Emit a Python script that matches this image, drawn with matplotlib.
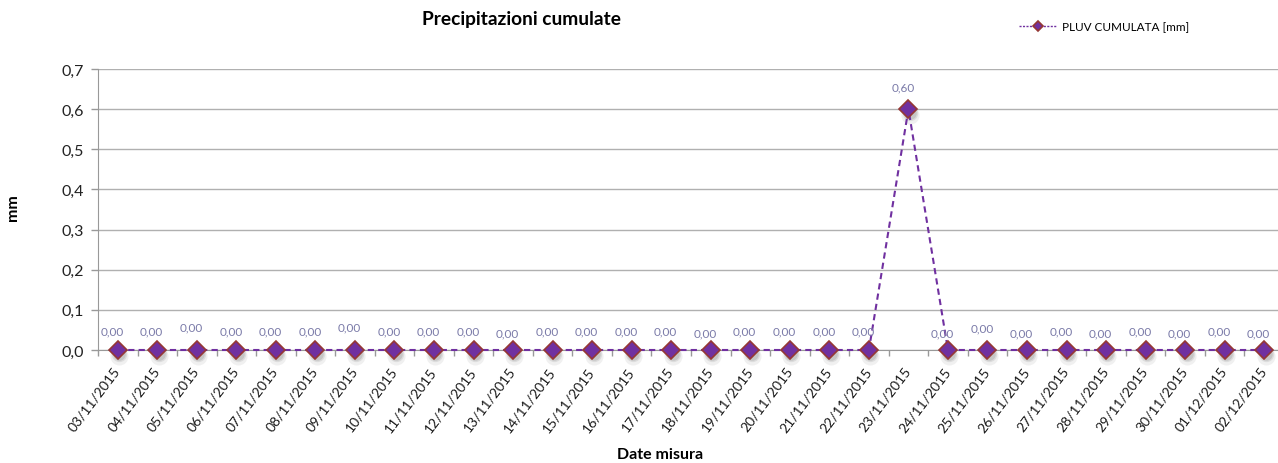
import matplotlib
matplotlib.use("Agg")
import matplotlib.pyplot as plt
import matplotlib.transforms as mtransforms
import numpy as np

plt.rcParams['font.family'] = ['Lato', 'DejaVu Sans']

dates = ["03/11/2015", "04/11/2015", "05/11/2015", "06/11/2015", "07/11/2015",
         "08/11/2015", "09/11/2015", "10/11/2015", "11/11/2015", "12/11/2015",
         "13/11/2015", "14/11/2015", "15/11/2015", "16/11/2015", "17/11/2015",
         "18/11/2015", "19/11/2015", "20/11/2015", "21/11/2015", "22/11/2015",
         "23/11/2015", "24/11/2015", "25/11/2015", "26/11/2015", "27/11/2015",
         "28/11/2015", "29/11/2015", "30/11/2015", "01/12/2015", "02/12/2015"]
pluv = [0, 0, 0, 0, 0, 0, 0, 0, 0, 0,
        0, 0, 0, 0, 0, 0, 0, 0, 0, 0,
        0.6, 0, 0, 0, 0, 0, 0, 0, 0, 0]
# small vertical offsets of the data labels (px), as Excel placed them
label_dy = [10, 10, 13, 10, 10, 10, 13, 10, 10, 10,
            8, 10, 10, 10, 10, 8, 10, 10, 10, 10,
            12, 8, 12, 8, 10, 8, 10, 8, 10, 8]

W, H = 1278, 464
fig = plt.figure(figsize=(W / 100, H / 100), dpi=100)
x0, x1 = 98, 1284
y0, y1 = 351, 70
ax = fig.add_axes([x0 / W, 1 - y0 / H, (x1 - x0) / W, (y0 - y1) / H])

x = np.arange(len(dates))

# soft shadow below the markers
for dx, dy, ms, a in [(1, -4, 13, 0.10), (1, -3, 11, 0.15), (1, -3, 9, 0.20)]:
    tr = mtransforms.offset_copy(ax.transData, fig=fig, x=dx, y=dy, units='points')
    ax.plot(x, pluv, linestyle='none', marker='o', markersize=ms, color='#707070',
            alpha=a, markeredgewidth=0, transform=tr, zorder=2, clip_on=False)

line, = ax.plot(x, pluv, linestyle=(0, (3, 2)), color='#7030a0', linewidth=1.5,
                marker='D', markersize=9, markerfacecolor='#7030a0',
                markeredgecolor='#953735', markeredgewidth=1.2,
                label='PLUV CUMULATA [mm]', zorder=3, clip_on=False)

for xi, v, dy in zip(x, pluv, label_dy):
    ax.annotate(f"{v:.2f}".replace('.', ','), (xi, v), xytext=(-4, dy),
                textcoords='offset points', ha='center', va='bottom',
                fontsize=8.5, color='#7a7aa8')

ax.set_xlim(-0.5, len(dates) - 0.5)
ax.set_ylim(0, 0.7)
ax.set_yticks(np.arange(0, 0.71, 0.1))
ax.set_yticklabels([f"{t:.1f}".replace('.', ',') for t in np.arange(0, 0.71, 0.1)],
                   fontsize=11.5, color='#222222')
ax.set_xticks(x)
ax.set_xticklabels(dates, rotation=53, ha='right', va='center', rotation_mode='anchor',
                   fontsize=10, color='#1a1a1a')
ax.set_xticks(np.arange(-0.5, len(dates), 1), minor=True)
ax.tick_params(axis='x', which='major', length=0, pad=13)
ax.tick_params(axis='x', which='minor', length=4, color='#999999', width=1)
ax.tick_params(axis='y', length=5, color='#999999', width=1, pad=5)

ax.grid(axis='y', color='#b0b0b0', linewidth=1)
ax.set_axisbelow(True)
for s in ['top', 'right']:
    ax.spines[s].set_visible(False)
ax.spines['left'].set_color('#999999')
ax.spines['bottom'].set_color('#999999')

fig.text(521 / W, 1 - 20 / H, 'Precipitazioni cumulate', ha='center', va='center',
         fontsize=13.8, fontweight='bold')
fig.text(13 / W, 1 - 208 / H, 'mm', rotation=90, ha='center', va='center',
         fontsize=11.5, fontweight='bold')
fig.text(660 / W, 1 - 455 / H, 'Date misura', ha='center', va='center',
         fontsize=11.5, fontweight='bold')

leg = fig.legend(handles=[line], loc='center left', bbox_to_anchor=(1008 / W, 1 - 28 / H),
                 frameon=False, fontsize=8.5, handlelength=3.2, handletextpad=0.5)
for lh in leg.legend_handles:
    lh.set_markersize(5)
    lh.set_linestyle((0, (1.5, 1)))
    lh.set_linewidth(1)

fig.savefig('out.png', dpi=100)
